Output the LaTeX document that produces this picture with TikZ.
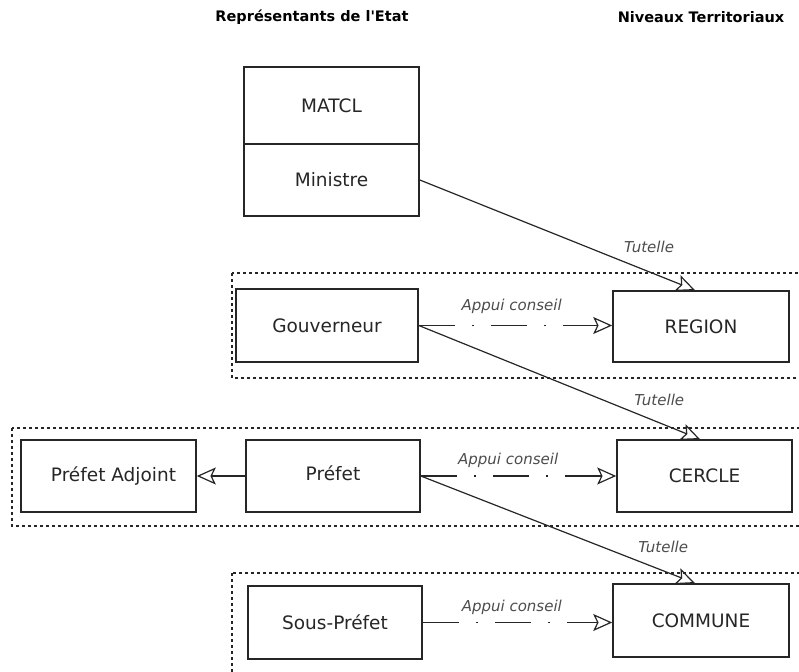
\documentclass[tikz,border=0pt]{standalone}
\usepackage{fontspec}
\setmainfont{DejaVu Sans}
% heading font without TeX quote mapping, so ' stays straight
\newfontfamily\headfont{DejaVu Sans}
\usetikzlibrary{arrows.meta}

\begin{document}
\begin{tikzpicture}[x=1pt,y=-1pt,
  box/.style={draw=black!85, line width=1.6pt, inner sep=0pt,
    minimum width=175pt, minimum height=72pt,
    font=\fontsize{18.5}{21}\selectfont, text=black!85},
  heading/.style={font=\headfont\bfseries\fontsize{14.5}{16}\selectfont, text=black},
  group/.style={draw=black!85, line width=1.5pt, dash pattern=on 3pt off 3pt},
  conn/.style={draw=black!85, line width=1.2pt,
    -{Stealth[open, length=19pt, width=17pt, inset=4pt, line width=1.2pt]}},
  advice/.style={conn, dash pattern=on 36pt off 17pt on 2pt off 17pt},
  lbl/.style={font=\itshape\fontsize{15}{17}\selectfont, text=black!70, inner sep=0pt}
]
\useasboundingbox (0,0) rectangle (799,671);
\clip (0,0) rectangle (799,671);

% column headings
\node[heading] (hrep) at (312,17) {Représentants de l'Etat};
\node[heading] (hniv) at (701,17) {Niveaux Territoriaux};

% dotted groups, one per territorial level
\draw[group] (232,273) rectangle (830,378);
\draw[group] (12,428) rectangle (830,526);
\draw[group] (232,573) rectangle (830,700);

% ministry
\node[box, minimum height=77pt] (matcl) at (331.5,105.5) {MATCL};
\node[box] (ministre) at (331.5,180) {Ministre};

% region level
\node[box, minimum width=182pt, minimum height=73pt] (gouv) at (327,325.5) {Gouverneur};
\node[box, minimum width=176pt, minimum height=71pt] (region) at (701,326.5) {REGION};

% cercle level
\node[box] (padj) at (108.5,476) {\hspace*{10pt}Préfet Adjoint};
\node[box, minimum width=174pt] (prefet) at (333,476) {\raisebox{6pt}{Préfet}};
\node[box] (cercle) at (704.5,476) {CERCLE};

% commune level
\node[box, minimum width=174pt, minimum height=73pt] (sousp) at (335,622.5) {Sous-Préfet};
\node[box, minimum width=176pt, minimum height=73pt] (commune) at (701,620.5) {COMMUNE};

% arrow targets on the top edges
\coordinate (regtop) at ([xshift=-6pt]region.north);
\coordinate (certop) at ([xshift=-4.5pt]cercle.north);
\coordinate (comtop) at ([xshift=-6pt]commune.north);

% supervision (tutelle)
\draw[conn] (ministre.east) -- (regtop)
  node[lbl, pos=.833, yshift=25pt] {Tutelle};
\draw[conn] (gouv.east) -- (certop)
  node[lbl, pos=.855, yshift=23pt] {Tutelle};
\draw[conn] (prefet.east) -- (comtop)
  node[lbl, pos=.884, yshift=24pt] {Tutelle};

% advisory support (appui conseil)
\draw[advice] (gouv.east) -- (region.west |- gouv.east)
  node[lbl, pos=.48, yshift=19pt] {Appui conseil};
\draw[advice] (prefet.east) -- (cercle.west)
  node[lbl, pos=.447, yshift=16pt] {Appui conseil};
\draw[advice] (sousp.east) -- (commune.west |- sousp.east)
  node[lbl, pos=.47, yshift=15pt] {Appui conseil};

% delegation to the deputy
\draw[conn] (prefet.west) -- (padj.east);
\end{tikzpicture}
\end{document}
